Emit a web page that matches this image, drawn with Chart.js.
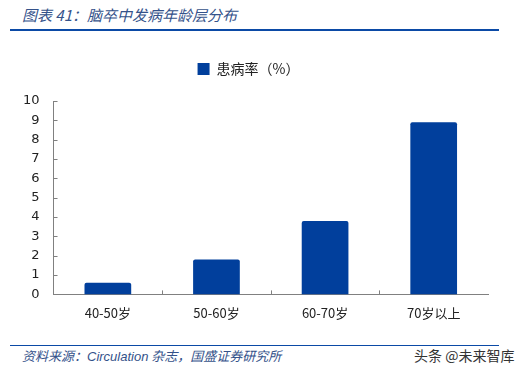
<!DOCTYPE html>
<html>
<head>
<meta charset="utf-8">
<script src="https://cdn.jsdelivr.net/npm/chart.js@4"></script>
<style>
  html, body { margin: 0; padding: 0; background: #fff; }
  body { width: 520px; height: 370px; position: relative; overflow: hidden; font-family: "Noto Sans CJK SC", sans-serif; }
  #title { position: absolute; left: 22px; top: 4px; font-size: 15px; font-style: italic; color: #34528a; }
  #topline { position: absolute; left: 10px; top: 29px; width: 489px; height: 2px; background: #0b4aa6; }
  #botline { position: absolute; left: 10px; top: 345px; width: 489px; height: 1px; background: #0b4aa6; }
  #source { position: absolute; left: 22px; top: 346px; font-size: 13px; font-style: italic; color: #34528a; }
  #mark { position: absolute; left: 414px; top: 345px; font-size: 14px; color: #333; }
  #wrap { position: absolute; left: 0; top: 40px; width: 520px; height: 292px; }
</style>
</head>
<body>
<div id="title">图表 41：脑卒中发病年龄层分布</div>
<div id="topline"></div>
<div id="wrap"><canvas id="c" width="520" height="292"></canvas></div>
<div id="botline"></div>
<div id="source">资料来源：<span style="font-family:'Liberation Sans',sans-serif">Circulation</span> 杂志，国盛证券研究所</div>
<div id="mark">头条 @未来智库</div>
<script>
  var categories = ["40-50岁", "50-60岁", "60-70岁", "70岁以上"];
  var seriesName = "患病率（%）";
  var rates = [0.6, 1.8, 3.8, 8.9];
  var yTicks = [0, 1, 2, 3, 4, 5, 6, 7, 8, 9, 10];

  var axisColor = "#808080";

  // extra room between legend and plot
  var legendGap = {
    id: "legendGap",
    beforeInit: function (chart) {
      var fit = chart.legend.fit;
      chart.legend.fit = function () {
        fit.bind(chart.legend)();
        this.height += 15;
      };
    },
  };

  // draws the short inward tick marks like the original chart
  var innerTicks = {
    id: "innerTicks",
    afterDraw: function (chart) {
      var ctx = chart.ctx;
      var xs = chart.scales.x;
      var ys = chart.scales.y;
      var area = chart.chartArea;
      ctx.save();
      ctx.strokeStyle = axisColor;
      ctx.lineWidth = 1;
      ctx.beginPath();
      for (var i = 0; i < yTicks.length; i++) {
        var py = Math.round(ys.getPixelForValue(yTicks[i])) + 0.5;
        ctx.moveTo(area.left, py);
        ctx.lineTo(area.left + 4, py);
      }
      for (var j = 1; j < categories.length; j++) {
        var px = Math.round((xs.getPixelForValue(j - 1) + xs.getPixelForValue(j)) / 2) + 0.5;
        ctx.moveTo(px, area.bottom);
        ctx.lineTo(px, area.bottom - 4);
      }
      ctx.stroke();
      ctx.restore();
    },
  };

  new Chart(document.getElementById("c"), {
    type: "bar",
    data: {
      labels: categories,
      datasets: [
        {
          label: seriesName,
          data: rates,
          backgroundColor: "#013f9c",
          borderWidth: 0,
          borderRadius: 2,
          categoryPercentage: 1,
          barPercentage: 0.43,
        },
      ],
    },
    options: {
      responsive: false,
      animation: false,
      layout: { padding: { left: 9, right: 32, top: 0, bottom: 0 } },
      plugins: {
        tooltip: { enabled: false },
        legend: {
          position: "top",
          labels: {
            boxWidth: 12,
            boxHeight: 12,
            color: "#222",
            padding: 22,
            font: { family: "Noto Sans CJK SC", size: 14 },
          },
        },
      },
      scales: {
        x: {
          grid: { display: false, drawTicks: false },
          border: { color: axisColor },
          ticks: { color: "#222", padding: 11, font: { family: "Noto Sans CJK SC", size: 13 } },
        },
        y: {
          min: 0,
          max: 10,
          afterBuildTicks: function (axis) {
            axis.ticks = yTicks.map(function (v) { return { value: v }; });
          },
          grid: { display: false, drawTicks: false },
          border: { color: axisColor },
          ticks: { color: "#222", padding: 14, font: { family: "DejaVu Sans", size: 13 } },
        },
      },
    },
    plugins: [legendGap, innerTicks],
  });
</script>
</body>
</html>
